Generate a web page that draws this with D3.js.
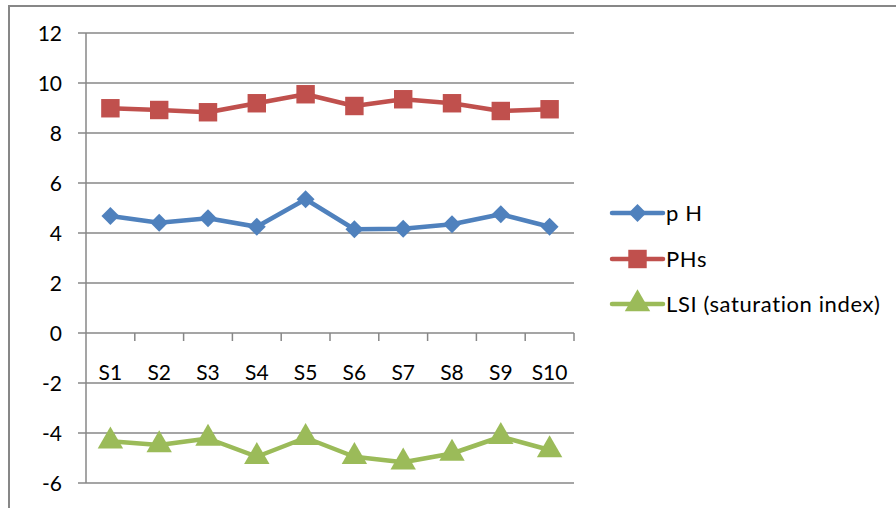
<!DOCTYPE html>
<html><head><meta charset="utf-8">
<script src="https://cdn.jsdelivr.net/npm/d3@7"></script>
<style>body{margin:0;background:#fff}svg{display:block}text{font-family:Lato,"Open Sans",sans-serif;fill:#000}</style>
</head><body><svg id="c" width="896" height="508"></svg>
<script>
const categories = ["S1","S2","S3","S4","S5","S6","S7","S8","S9","S10"];
const pH  = [4.68,4.41,4.59,4.25,5.35,4.15,4.17,4.35,4.75,4.25];
const pHs = [8.99,8.92,8.83,9.19,9.55,9.08,9.35,9.19,8.88,8.95];
const lsi = [-4.33,-4.48,-4.22,-4.95,-4.19,-4.95,-5.17,-4.82,-4.15,-4.68];
const yTicks = [12,10,8,6,4,2,0,-2,-4,-6];
const seriesNames = ["p H","PHs","LSI (saturation index)"];
const colors = ["#4F81BD","#C0504D","#9BBB59"];
const diamond = {draw(ctx,size){const r=Math.sqrt(size/2);ctx.moveTo(0,-r);ctx.lineTo(r,0);ctx.lineTo(0,r);ctx.lineTo(-r,0);ctx.closePath();}};
const symbols = [diamond, d3.symbolSquare, d3.symbolTriangle];

const svg = d3.select("#c");
const L=86,R=574,T=33,B=483;
const x = d3.scaleBand().domain(categories).range([L,R]);
const y = d3.scaleLinear().domain([-6,12]).range([B,T]);
const grid="#878787";
const fs=21;

svg.append("path").attr("d","M9,508 V6 H896").attr("fill","none").attr("stroke",grid).attr("stroke-width",2);

svg.append("g").selectAll("line").data(yTicks).join("line")
  .attr("x1",L-8).attr("x2",R).attr("y1",d=>y(d)).attr("y2",d=>y(d))
  .attr("stroke",grid).attr("stroke-width",1.5);
svg.append("line").attr("x1",L).attr("x2",L).attr("y1",T).attr("y2",B).attr("stroke",grid).attr("stroke-width",1.5);
svg.append("g").selectAll("text").data(yTicks).join("text")
  .attr("x",62).attr("y",d=>y(d)).attr("dy","0.36em").attr("text-anchor","end")
  .attr("font-size",fs).text(d=>d);

const edges = categories.map(c=>x(c)+x.bandwidth());
svg.append("g").selectAll("line").data(edges).join("line")
  .attr("x1",d=>d).attr("x2",d=>d).attr("y1",y(0)).attr("y2",y(0)+8)
  .attr("stroke",grid).attr("stroke-width",1.5);
svg.append("g").selectAll("text").data(categories).join("text")
  .attr("x",d=>x(d)+x.bandwidth()/2).attr("y",380).attr("text-anchor","middle")
  .attr("font-size",fs).text(d=>d);

const data=[pH,pHs,lsi];
const sizes=[160,340,280];
const line=d3.line().x((d,i)=>x(categories[i])+x.bandwidth()/2).y(d=>y(d));
data.forEach((vals,k)=>{
  const g=svg.append("g");
  g.append("path").attr("d",line(vals)).attr("fill","none").attr("stroke",colors[k]).attr("stroke-width",4.5).attr("stroke-linejoin","round");
  g.selectAll("path.m").data(vals).join("path").attr("class","m")
    .attr("transform",(d,i)=>`translate(${x(categories[i])+x.bandwidth()/2},${y(d)})`)
    .attr("d",d3.symbol().type(symbols[k]).size(sizes[k])).attr("fill",colors[k]);
});

const ly=[213,259,304];
seriesNames.forEach((n,k)=>{
  const g=svg.append("g");
  g.append("line").attr("x1",612).attr("x2",663).attr("y1",ly[k]).attr("y2",ly[k]).attr("stroke",colors[k]).attr("stroke-width",4.5).attr("stroke-linecap","round");
  g.append("path").attr("transform",`translate(637.5,${ly[k]})`).attr("d",d3.symbol().type(symbols[k]).size(sizes[k])).attr("fill",colors[k]);
  g.append("text").attr("x",666).attr("y",ly[k]).attr("dy","0.36em").attr("font-size",22).attr("letter-spacing",0.6).text(n);
});
</script></body></html>
